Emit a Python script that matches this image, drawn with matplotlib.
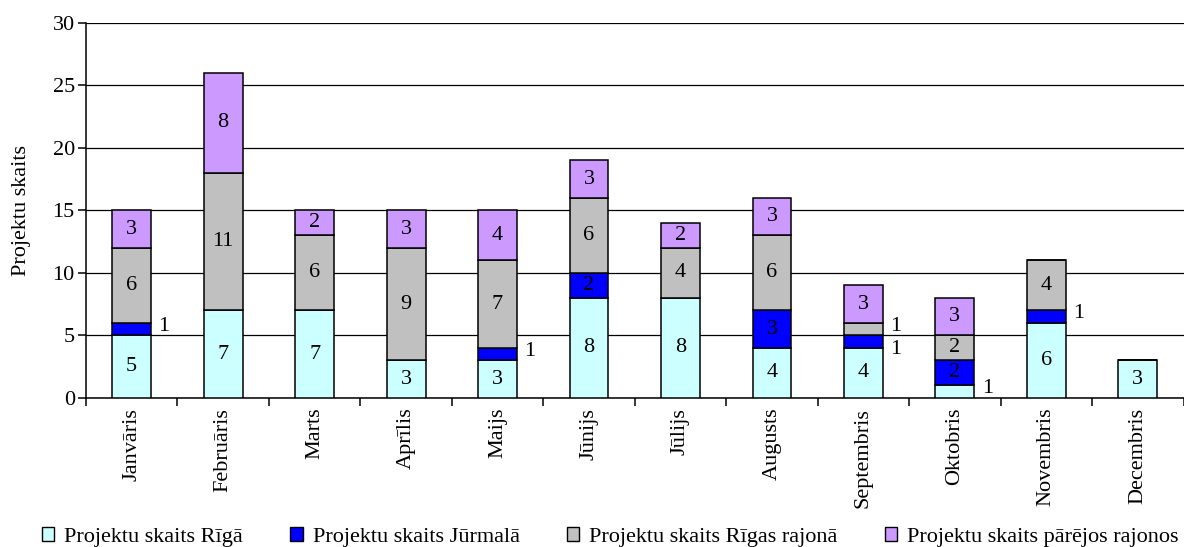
import matplotlib.pyplot as plt
import numpy as np
from matplotlib.patches import Patch

plt.rcParams['font.family'] = ['Liberation Serif', 'DejaVu Serif']

months = ['Janvāris', 'Februāris', 'Marts', 'Aprīlis', 'Maijs', 'Jūnijs',
          'Jūlijs', 'Augusts', 'Septembris', 'Oktobris', 'Novembris', 'Decembris']
riga = [5, 7, 7, 3, 3, 8, 8, 4, 4, 1, 6, 3]
jurmala = [1, 0, 0, 0, 1, 2, 0, 3, 1, 2, 1, 0]
rigas_rajons = [6, 11, 6, 9, 7, 6, 4, 6, 1, 2, 4, 0]
parejie = [3, 8, 2, 3, 4, 3, 2, 3, 3, 3, 0, 0]

series = [
    ('Projektu skaits Rīgā', riga, '#CCFFFF'),
    ('Projektu skaits Jūrmalā', jurmala, '#0000FF'),
    ('Projektu skaits Rīgas rajonā', rigas_rajons, '#C0C0C0'),
    ('Projektu skaits pārējos rajonos', parejie, '#CC99FF'),
]

fig = plt.figure(figsize=(11.84, 5.47), dpi=100)
ax = fig.add_axes([0.0726, 0.2724, 0.927, 0.6856])

x = np.arange(len(months))
width = 0.425
bottom = np.zeros(len(months))
for name, vals, color in series:
    vals = np.array(vals)
    ax.bar(x, vals, width, bottom=bottom, color=color, edgecolor='black',
           linewidth=1.1, zorder=3)
    for i, v in enumerate(vals):
        if v == 0:
            continue
        yc = bottom[i] + v / 2
        if v == 1:
            # single-project segments are labelled beside the bar;
            # push the lower one down if the segment above is also a 1
            nxt = bottom[i] + v
            above_is_one = any(
                np.array(s[1])[i] == 1 and
                np.isclose(sum(np.array(t[1])[i] for t in series[:k]), nxt)
                for k, s in enumerate(series))
            dy = -0.6 if above_is_one else 0.25
            ax.text(x[i] + width / 2 + 0.08, yc + dy, str(v), ha='left',
                    va='center', fontsize=16, zorder=4)
        else:
            ax.text(x[i], yc, str(v), ha='center', va='center', fontsize=16,
                    zorder=4)
    bottom += vals

ax.set_xlim(-0.5, len(months) - 0.5)
ax.set_ylim(0, 30)
ax.set_yticks(range(0, 31, 5))
ax.yaxis.grid(True, color='black', linewidth=0.9, zorder=0)
ax.set_axisbelow(True)
ax.tick_params(axis='y', labelsize=16, length=6, width=1.1, direction='out',
               pad=2)
ax.set_ylabel('Projektu skaits', fontsize=16)
ax.yaxis.set_label_coords(-0.050, 0.5)

ax.set_xticks(x)
ax.set_xticklabels(months, rotation=90, fontsize=16)
ax.tick_params(axis='x', length=0, pad=7)
ax.set_xticks(np.arange(-0.5, len(months), 1), minor=True)
ax.tick_params(axis='x', which='minor', length=6, width=1.1, direction='out')

for side in ['top', 'right']:
    ax.spines[side].set_visible(False)
ax.spines['left'].set_linewidth(1.1)
ax.spines['bottom'].set_linewidth(1.1)

handles = [Patch(facecolor=c, edgecolor='black', label=n) for n, _, c in series]
fig.legend(handles=handles, loc='lower left', ncol=4, frameon=False,
           fontsize=16, bbox_to_anchor=(42 / 1184, 0.0), borderpad=0,
           borderaxespad=0, handlelength=0.55, handleheight=0.55,
           handletextpad=0.45, columnspacing=2.13)

fig.savefig('out.png', dpi=100)
